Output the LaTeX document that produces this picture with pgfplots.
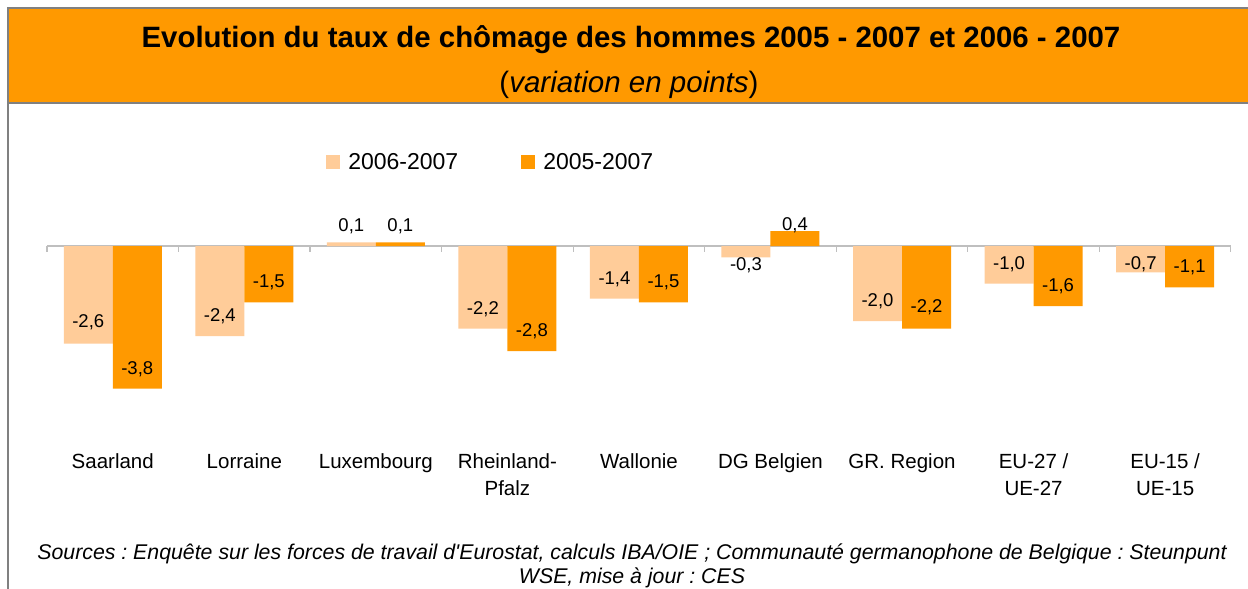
\documentclass[border=0pt]{standalone}
\usepackage{fontspec}
\setmainfont{Liberation Sans}
\usepackage{pgfplots}
\pgfplotsset{compat=1.18}
\usepackage{pgfplotstable}
\definecolor{peach}{HTML}{FFCC99}
\definecolor{orangeX}{HTML}{FF9900}
\definecolor{bordergray}{HTML}{808080}
\definecolor{axisgray}{HTML}{BFBFBF}

\pgfplotstableread{
x y dy
0 -2.6 22.3
1 -2.4 21.3
2 0.1 17
3 -2.2 20.3
4 -1.4 21
5 -0.3 -6.5
6 -2.0 21
7 -1.0 20.4
8 -0.7 9.4
}\lightdata
\pgfplotstableread{
x y dy
0 -3.8 21
1 -1.5 21.7
2 0.1 17
3 -2.8 21.3
4 -1.5 21.7
5 0.4 6.6
6 -2.2 22.7
7 -1.6 21
8 -1.1 21
}\darkdata

\begin{document}
\frenchspacing
\begin{tikzpicture}
\path[use as bounding box] (0,0) rectangle (1248bp,-589bp);
\fill[white] (0,0) rectangle (1248bp,-589bp);
% header
\fill[orangeX] (8bp,-9bp) rectangle (1248bp,-102bp);
\draw[bordergray, line width=2.5bp] (8bp,-8bp) -- (1248bp,-8bp);
\draw[bordergray, line width=2.5bp] (8bp,-103bp) -- (1248bp,-103bp);
\draw[bordergray, line width=2bp] (8bp,-7bp) -- (8bp,-589bp);
\node[font=\fontsize{29.4bp}{34bp}\selectfont\bfseries] at (631bp,-40bp) {Evolution du taux de chômage des hommes 2005 - 2007 et 2006 - 2007};
\node[font=\fontsize{29.5bp}{34bp}\selectfont] at (629bp,-85bp) {(\textit{variation en points})};
% footer
\node[font=\fontsize{21.3bp}{24bp}\selectfont\itshape, align=center] at (632bp,-566bp) {Sources : Enquête sur les forces de travail d\textquotesingle Eurostat, calculs IBA/OIE ; Communauté germanophone de Belgique : Steunpunt\\WSE, mise à jour : CES};

\begin{axis}[
  at={(47bp,-433.5bp)}, anchor=south west,
  scale only axis, width=1184bp, height=225bp,
  xmin=-0.5, xmax=8.5, ymin=-5, ymax=1,
  axis line style={draw=none},
  ytick=\empty,
  xtick={0,...,8},
  xticklabels={Saarland, Lorraine, Luxembourg, {Rheinland-\\Pfalz}, Wallonie, DG Belgien, GR. Region, {EU-27 /\\UE-27}, {EU-15 /\\UE-15}},
  major tick length=0pt,
  xticklabel style={align=center, font=\fontsize{20.5bp}{27bp}\selectfont, anchor=north, inner sep=0pt, yshift=-20bp},
  ybar=0pt, bar width=49bp,
  clip=false,
  nodes near coords={\pgfmathprintnumber[fixed, fixed zerofill, precision=1, use comma, assume math mode=true]{\pgfplotspointmeta}},
  visualization depends on={\thisrow{dy} \as \dy},
  every node near coord/.append style={font=\fontsize{18.5bp}{20bp}\selectfont, anchor=center, text height=13bp, text depth=0bp, inner sep=0pt, yshift=\dy bp, black},
  legend style={at={(0.374,1.207)}, anchor=center, draw=none, fill=none, legend columns=2,
    font=\fontsize{23bp}{25bp}\selectfont,
    /tikz/every odd column/.append style={column sep=8bp},
    /tikz/every even column/.append style={column sep=63bp},
    inner sep=0pt, nodes={inner sep=0pt}},
  legend image code/.code={\fill[#1] (0bp,-7bp) rectangle (14bp,7bp);},
]
\draw[axisgray, line width=1.5bp] (axis cs:-0.5,0) -- (axis cs:8.5,0);
\pgfplotsinvokeforeach{-0.5,0.5,...,8.5}{\draw[axisgray, line width=1.2bp] (axis cs:#1,0) -- ([yshift=-6bp]axis cs:#1,0);}
\addplot[fill=peach, draw=none] table[x=x, y=y] {\lightdata};
\addlegendentry{2006-2007}
\addplot[fill=orangeX, draw=none] table[x=x, y=y] {\darkdata};
\addlegendentry{2005-2007}
\end{axis}
\end{tikzpicture}
\end{document}
